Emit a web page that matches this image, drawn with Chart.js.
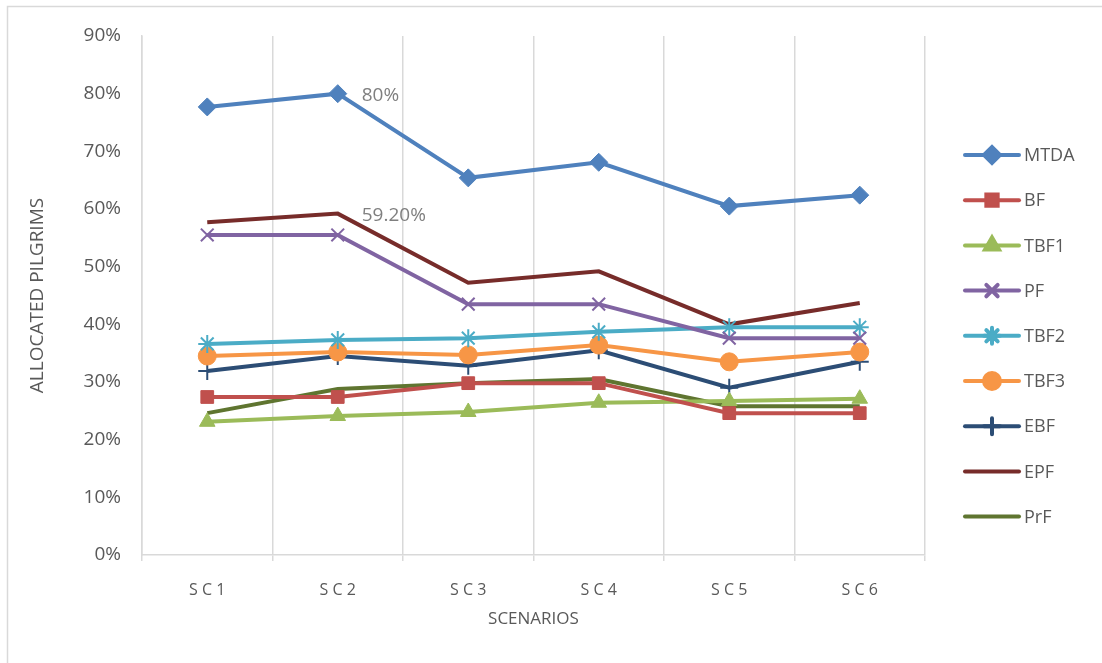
<!DOCTYPE html>
<html lang="en">
<head>
    <meta charset="UTF-8">
    <title>Allocated pilgrims by scenario</title>
    <script src="https://cdn.jsdelivr.net/npm/chart.js"></script>
    <style>
        body { margin: 0; background: #fff; }
        .wrap { width: 1102px; height: 663px; position: relative; }
    </style>
</head>
<body>
    <div class="wrap">
        <canvas id="myChart" width="1102" height="663"></canvas>
    </div>

    <script>
        const scenarios = ['S C 1', 'S C 2', 'S C 3', 'S C 4', 'S C 5', 'S C 6'];
        const yTicks = [0, 10, 20, 30, 40, 50, 60, 70, 80, 90];

        const mtda = [77.7, 80.0, 65.4, 68.1, 60.5, 62.4];
        const bf   = [27.4, 27.4, 29.8, 29.8, 24.6, 24.6];
        const tbf1 = [23.1, 24.1, 24.8, 26.4, 26.7, 27.1];
        const pf   = [55.5, 55.5, 43.5, 43.5, 37.6, 37.6];
        const tbf2 = [36.6, 37.3, 37.6, 38.7, 39.5, 39.5];
        const tbf3 = [34.5, 35.2, 34.7, 36.4, 33.5, 35.2];
        const ebf  = [31.9, 34.5, 32.8, 35.5, 29.0, 33.5];
        const epf  = [57.7, 59.2, 47.2, 49.2, 40.0, 43.7];
        const prf  = [24.6, 28.8, 29.8, 30.5, 25.8, 25.8];

        // [series index, point index, text]
        const pointNotes = [[0, 1, '80%'], [7, 1, '59.20%']];

        const font = "'Open Sans', 'Liberation Sans', sans-serif";
        const textGray = '#595959';

        function series(label, data, color, style, radius) {
            return {
                label: label,
                data: data,
                borderColor: color,
                backgroundColor: color,
                borderWidth: 4,
                pointStyle: style,
                pointRadius: radius,
                pointBorderWidth: style === 'crossRot' || style === 'star' || style === 'cross' ? 2 : 1,
                pointBorderColor: color,
                pointBackgroundColor: color,
                tension: 0
            };
        }

        const datasets = [
            series('MTDA', mtda, '#4f81bd', 'rectRot', 9),
            series('BF', bf, '#c0504d', 'rect', 9),
            series('TBF1', tbf1, '#9bbb59', 'triangle', 9),
            series('PF', pf, '#8064a2', 'crossRot', 9),
            series('TBF2', tbf2, '#4bacc6', 'star', 9),
            series('TBF3', tbf3, '#f79646', 'circle', 9),
            series('EBF', ebf, '#2c4d75', 'cross', 9),
            series('EPF', epf, '#772c2a', false, 0),
            series('PrF', prf, '#5f7530', false, 0)
        ];

        const extras = {
            id: 'extras',
            afterDraw(chart) {
                const ctx = chart.ctx;
                ctx.save();
                // outer frame (left and top edges)
                ctx.strokeStyle = '#d9d9d9';
                ctx.lineWidth = 1.5;
                ctx.beginPath();
                ctx.moveTo(7.5, 663);
                ctx.lineTo(7.5, 6.5);
                ctx.lineTo(1102, 6.5);
                ctx.stroke();

                // value notes
                ctx.fillStyle = '#7f7f7f';
                ctx.font = '19px ' + font;
                ctx.textBaseline = 'middle';
                pointNotes.forEach(n => {
                    const pt = chart.getDatasetMeta(n[0]).data[n[1]];
                    ctx.fillText(n[2], pt.x + 24, pt.y + 2);
                });

                // legend
                const x0 = 965, x1 = 1019, yStart = 155, step = 45.2;
                ctx.textAlign = 'left';
                ctx.font = '18px ' + font;
                chart.data.datasets.forEach((ds, i) => {
                    const y = yStart + i * step;
                    ctx.strokeStyle = ds.borderColor;
                    ctx.lineWidth = 4;
                    ctx.lineCap = 'round';
                    ctx.beginPath();
                    ctx.moveTo(x0, y);
                    ctx.lineTo(x1, y);
                    ctx.stroke();
                    if (ds.pointStyle) {
                        Chart.helpers.drawPoint(ctx, {
                            pointStyle: ds.pointStyle,
                            radius: ds.pointRadius - 1,
                            borderWidth: ds.pointBorderWidth,
                            rotation: 0
                        }, (x0 + x1) / 2, y);
                        ctx.fillStyle = ds.borderColor;
                        ctx.strokeStyle = ds.borderColor;
                        ctx.lineWidth = ds.pointBorderWidth;
                        ctx.fill();
                        ctx.stroke();
                    }
                    ctx.fillStyle = textGray;
                    ctx.fillText(ds.label, x1 + 5, y + 1);
                });
                ctx.restore();
            }
        };

        new Chart(document.getElementById('myChart'), {
            type: 'line',
            data: { labels: scenarios, datasets: datasets },
            options: {
                responsive: false,
                animation: false,
                layout: { padding: { left: 22, right: 177, top: 36, bottom: 30 } },
                plugins: {
                    legend: { display: false },
                    tooltip: { enabled: false }
                },
                scales: {
                    x: {
                        offset: true,
                        grid: {
                            display: true,
                            offset: true,
                            color: '#d9d9d9',
                            lineWidth: 1.5,
                            tickLength: 6,
                            drawOnChartArea: true
                        },
                        border: { display: true, color: '#d9d9d9', width: 1.5 },
                        ticks: {
                            color: textGray,
                            font: { family: font, size: 16 },
                            padding: 20
                        },
                        title: {
                            display: true,
                            text: 'SCENARIOS',
                            color: textGray,
                            font: { family: font, size: 17 },
                            padding: { top: 0, bottom: 4 }
                        },
                        afterFit(scale) { scale.height = 663 - 555 - 30; }
                    },
                    y: {
                        min: 0,
                        max: 90,
                        afterBuildTicks(scale) {
                            scale.ticks = yTicks.map(v => ({ value: v }));
                        },
                        grid: { display: false },
                        border: { display: true, color: '#d9d9d9', width: 1.5 },
                        ticks: {
                            color: textGray,
                            font: { family: font, size: 19 },
                            padding: 13,
                            callback: v => v + '%'
                        },
                        title: {
                            display: true,
                            text: 'ALLOCATED PILGRIMS',
                            color: textGray,
                            font: { family: font, size: 19 },
                            padding: { top: 4, bottom: 0 }
                        },
                        afterFit(scale) { scale.width = 142 - 22; }
                    }
                }
            },
            plugins: [extras]
        });
    </script>
</body>
</html>
